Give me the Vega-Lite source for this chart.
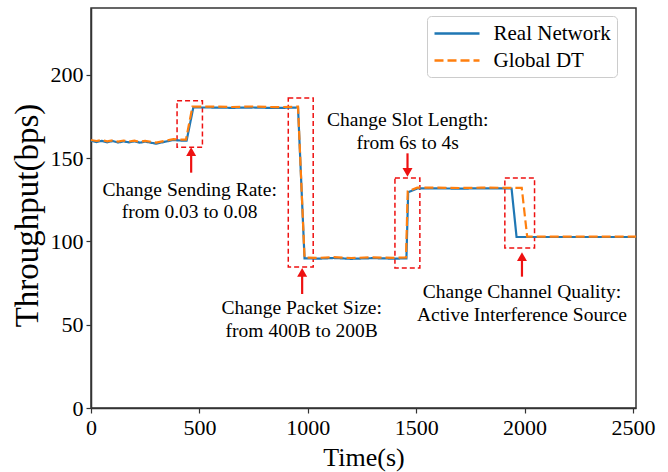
{
  "$schema": "https://vega.github.io/schema/vega-lite/v6.json",
  "width": 545,
  "height": 400,
  "autosize": {"type": "none"},
  "padding": {"left": 91, "top": 8, "right": 32, "bottom": 64},
  "background": "white",
  "config": {
    "font": "Liberation Serif",
    "view": {"stroke": "#333", "strokeWidth": 1.5},
    "axis": {"grid": false, "domainColor": "#333", "domainWidth": 1.5, "tickColor": "#333", "tickSize": 5, "tickWidth": 1.2, "labelFont": "Liberation Serif", "titleFont": "Liberation Serif", "labelFontSize": 22, "titleFontSize": 26, "labelColor": "black", "titleColor": "black", "titleFontWeight": "normal"}
  },
  "datasets": {
    "series": [
      {"t": 0, "v": 160.3, "s": "Real Network"},
      {"t": 25, "v": 159.6, "s": "Real Network"},
      {"t": 50, "v": 160.3, "s": "Real Network"},
      {"t": 75, "v": 159.4, "s": "Real Network"},
      {"t": 100, "v": 160.2, "s": "Real Network"},
      {"t": 125, "v": 159.3, "s": "Real Network"},
      {"t": 150, "v": 160, "s": "Real Network"},
      {"t": 175, "v": 159.4, "s": "Real Network"},
      {"t": 200, "v": 160, "s": "Real Network"},
      {"t": 225, "v": 159.2, "s": "Real Network"},
      {"t": 250, "v": 159.8, "s": "Real Network"},
      {"t": 300, "v": 158.6, "s": "Real Network"},
      {"t": 350, "v": 160, "s": "Real Network"},
      {"t": 380, "v": 160.8, "s": "Real Network"},
      {"t": 410, "v": 160.5, "s": "Real Network"},
      {"t": 441, "v": 160.4, "s": "Real Network"},
      {"t": 472, "v": 180.3, "s": "Real Network"},
      {"t": 550, "v": 180.3, "s": "Real Network"},
      {"t": 650, "v": 180.1, "s": "Real Network"},
      {"t": 750, "v": 180.3, "s": "Real Network"},
      {"t": 850, "v": 180, "s": "Real Network"},
      {"t": 955, "v": 180.3, "s": "Real Network"},
      {"t": 985, "v": 89.8, "s": "Real Network"},
      {"t": 1050, "v": 89.6, "s": "Real Network"},
      {"t": 1120, "v": 90, "s": "Real Network"},
      {"t": 1200, "v": 89.5, "s": "Real Network"},
      {"t": 1300, "v": 89.9, "s": "Real Network"},
      {"t": 1400, "v": 89.6, "s": "Real Network"},
      {"t": 1455, "v": 89.8, "s": "Real Network"},
      {"t": 1463, "v": 129.5, "s": "Real Network"},
      {"t": 1508, "v": 131.8, "s": "Real Network"},
      {"t": 1600, "v": 131.8, "s": "Real Network"},
      {"t": 1700, "v": 131.6, "s": "Real Network"},
      {"t": 1800, "v": 131.8, "s": "Real Network"},
      {"t": 1940, "v": 131.7, "s": "Real Network"},
      {"t": 1963, "v": 102.6, "s": "Real Network"},
      {"t": 2100, "v": 102.6, "s": "Real Network"},
      {"t": 2300, "v": 102.6, "s": "Real Network"},
      {"t": 2514, "v": 102.6, "s": "Real Network"},
      {"t": 0, "v": 160.8, "s": "Global DT"},
      {"t": 25, "v": 160.2, "s": "Global DT"},
      {"t": 50, "v": 160.8, "s": "Global DT"},
      {"t": 75, "v": 160, "s": "Global DT"},
      {"t": 100, "v": 160.6, "s": "Global DT"},
      {"t": 125, "v": 159.8, "s": "Global DT"},
      {"t": 150, "v": 160.5, "s": "Global DT"},
      {"t": 175, "v": 159.9, "s": "Global DT"},
      {"t": 200, "v": 160.4, "s": "Global DT"},
      {"t": 225, "v": 159.7, "s": "Global DT"},
      {"t": 250, "v": 160.3, "s": "Global DT"},
      {"t": 300, "v": 159.2, "s": "Global DT"},
      {"t": 350, "v": 160.5, "s": "Global DT"},
      {"t": 380, "v": 161.3, "s": "Global DT"},
      {"t": 410, "v": 161, "s": "Global DT"},
      {"t": 438, "v": 161, "s": "Global DT"},
      {"t": 468, "v": 180.8, "s": "Global DT"},
      {"t": 550, "v": 180.9, "s": "Global DT"},
      {"t": 650, "v": 180.6, "s": "Global DT"},
      {"t": 750, "v": 180.9, "s": "Global DT"},
      {"t": 850, "v": 180.5, "s": "Global DT"},
      {"t": 955, "v": 180.8, "s": "Global DT"},
      {"t": 985, "v": 90.2, "s": "Global DT"},
      {"t": 1050, "v": 90.1, "s": "Global DT"},
      {"t": 1120, "v": 90.5, "s": "Global DT"},
      {"t": 1200, "v": 90, "s": "Global DT"},
      {"t": 1300, "v": 90.4, "s": "Global DT"},
      {"t": 1400, "v": 90.1, "s": "Global DT"},
      {"t": 1453, "v": 90.3, "s": "Global DT"},
      {"t": 1461, "v": 130, "s": "Global DT"},
      {"t": 1505, "v": 132.2, "s": "Global DT"},
      {"t": 1600, "v": 132.2, "s": "Global DT"},
      {"t": 1700, "v": 132, "s": "Global DT"},
      {"t": 1800, "v": 132.2, "s": "Global DT"},
      {"t": 1987, "v": 132.1, "s": "Global DT"},
      {"t": 2012, "v": 102.8, "s": "Global DT"},
      {"t": 2100, "v": 102.8, "s": "Global DT"},
      {"t": 2300, "v": 102.8, "s": "Global DT"},
      {"t": 2514, "v": 102.8, "s": "Global DT"}
    ],
    "boxes": [
      {"x1": 397, "x2": 514, "y1": 156.5, "y2": 184.3},
      {"x1": 910, "x2": 1025, "y1": 84.6, "y2": 186},
      {"x1": 1402, "x2": 1517, "y1": 84, "y2": 138},
      {"x1": 1909, "x2": 2046, "y1": 96, "y2": 138}
    ],
    "arrows": [
      {"x": 462, "y1": 141.2, "y2": 153.6, "tip": 153.8, "dir": "up"},
      {"x": 974, "y1": 68.4, "y2": 81.2, "tip": 81.4, "dir": "up"},
      {"x": 1460, "y1": 152.8, "y2": 141.6, "tip": 141.4, "dir": "down"},
      {"x": 1988, "y1": 78.8, "y2": 90.6, "tip": 90.8, "dir": "up"}
    ],
    "notes": [
      {"x": 455, "y": 130.8, "text": "Change Sending Rate:"},
      {"x": 455, "y": 117.8, "text": "from 0.03 to 0.08"},
      {"x": 972, "y": 60, "text": "Change Packet Size:"},
      {"x": 972, "y": 46.4, "text": "from 400B to 200B"},
      {"x": 1461, "y": 172.8, "text": "Change Slot Length:"},
      {"x": 1461, "y": 159.2, "text": "from 6s to 4s"},
      {"x": 1988, "y": 69.8, "text": "Change Channel Quality:"},
      {"x": 1988, "y": 55.8, "text": "Active Interference Source"}
    ]
  },
  "layer": [
    {
      "data": {"name": "boxes"},
      "mark": {"type": "rect", "fill": null, "fillOpacity": 0, "stroke": "#ee1111", "strokeWidth": 1.5, "strokeDash": [5, 3]},
      "encoding": {
        "x": {"field": "x1", "type": "quantitative", "scale": {"domain": [0, 2514]}},
        "x2": {"field": "x2"},
        "y": {"field": "y1", "type": "quantitative", "scale": {"domain": [0, 240]}},
        "y2": {"field": "y2"}
      }
    },
    {
      "data": {"name": "series"},
      "mark": {"type": "line", "strokeWidth": 2.2, "clip": true},
      "encoding": {
        "x": {"field": "t", "type": "quantitative", "scale": {"domain": [0, 2514], "nice": false}, "axis": {"values": [0, 500, 1000, 1500, 2000, 2500], "format": "d", "labelFlush": false, "title": "Time(s)", "labelPadding": 4, "titlePadding": 6}},
        "y": {"field": "v", "type": "quantitative", "scale": {"domain": [0, 240], "nice": false}, "axis": {"values": [0, 50, 100, 150, 200], "title": "Throughput(bps)", "titleFontSize": 33, "labelPadding": 3, "titlePadding": 6, "titleY": 207}},
        "color": {"field": "s", "type": "nominal", "scale": {"domain": ["Real Network", "Global DT"], "range": ["#1f77b4", "#ff7f0e"]}, "legend": {"title": null, "orient": "none", "legendX": 336, "legendY": 8, "padding": 6, "strokeColor": "#cccccc", "fillColor": "white", "cornerRadius": 4, "labelFont": "Liberation Serif", "labelFontSize": 21, "labelColor": "black", "symbolType": "M-2.25,0H2.25", "symbolSize": 400, "symbolOffset": 12.5, "symbolStrokeWidth": 2.5, "rowPadding": 5, "labelOffset": 25}},
        "strokeDash": {"field": "s", "type": "nominal", "scale": {"domain": ["Real Network", "Global DT"], "range": [[1, 0], [9, 4]]}, "legend": {"title": null, "orient": "none", "legendX": 336, "legendY": 8, "padding": 6, "strokeColor": "#cccccc", "fillColor": "white", "cornerRadius": 4, "labelFont": "Liberation Serif", "labelFontSize": 21, "labelColor": "black", "symbolType": "M-2.25,0H2.25", "symbolSize": 400, "symbolOffset": 12.5, "symbolStrokeWidth": 2.5, "rowPadding": 5, "labelOffset": 25}},
        "order": {"field": "t", "type": "quantitative"}
      }
    },
    {
      "data": {"name": "arrows"},
      "mark": {"type": "rule", "color": "#ee1111", "strokeWidth": 2.2},
      "encoding": {
        "x": {"field": "x", "type": "quantitative"},
        "y": {"field": "y1", "type": "quantitative"},
        "y2": {"field": "y2"}
      }
    },
    {
      "data": {"name": "arrows"},
      "mark": {"type": "point", "filled": true, "color": "#ee1111", "size": 100, "opacity": 1},
      "encoding": {
        "x": {"field": "x", "type": "quantitative"},
        "y": {"field": "tip", "type": "quantitative"},
        "shape": {"field": "dir", "type": "nominal", "scale": {"domain": ["up", "down"], "range": ["triangle-up", "triangle-down"]}, "legend": null}
      }
    },
    {
      "data": {"name": "notes"},
      "mark": {"type": "text", "font": "Liberation Serif", "fontSize": 19.5, "color": "black", "align": "center", "baseline": "middle"},
      "encoding": {
        "x": {"field": "x", "type": "quantitative"},
        "y": {"field": "y", "type": "quantitative"},
        "text": {"field": "text"}
      }
    }
  ]
}
